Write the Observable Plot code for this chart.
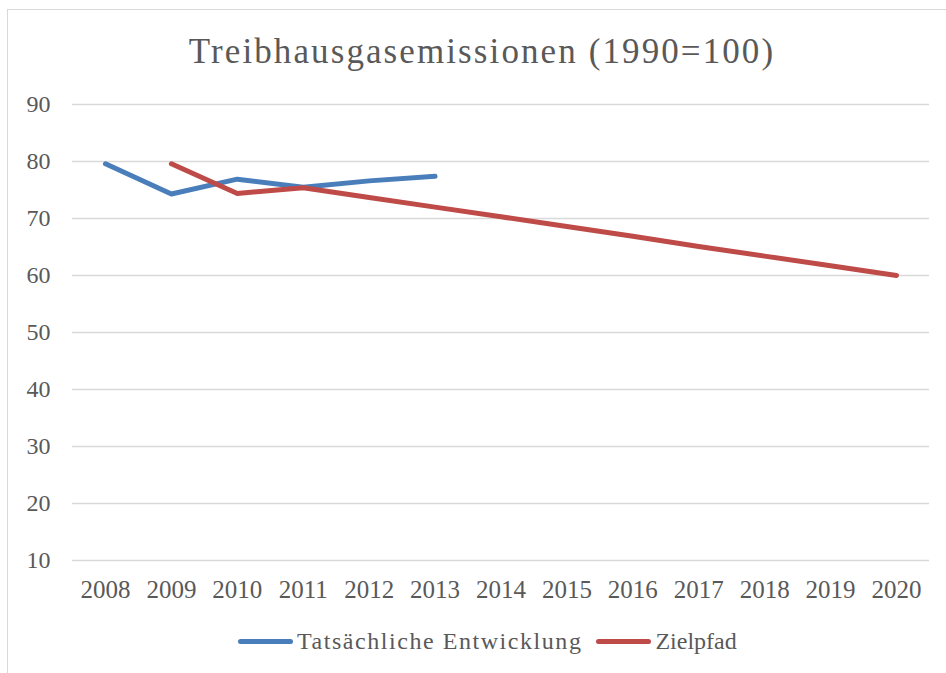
<!DOCTYPE html>
<html>
<head>
<meta charset="utf-8">
<script src="https://cdn.jsdelivr.net/npm/d3@7"></script>
<script src="https://cdn.jsdelivr.net/npm/@observablehq/plot@0.6"></script>
<style>
  html, body { margin: 0; padding: 0; background: #ffffff; }
  body { width: 946px; height: 673px; overflow: hidden; position: relative; font-family: "Liberation Serif", serif; color: #595959; }
  #frame { position: absolute; left: 7px; top: 9px; width: 980px; height: 700px; border-left: 1.5px solid #d9d9d9; border-top: 1.5px solid #d9d9d9; pointer-events: none; }
  #title { position: relative; height: 88px; box-sizing: border-box; padding-top: 34px; text-align: center; font-size: 35px; line-height: 1; letter-spacing: 2.1px; padding-left: 18px; }
  #chart { position: relative; height: 540px; }
  #chart svg { display: block; }
  #legend { position: relative; height: 27px; display: flex; align-items: center; padding-left: 238px; font-size: 24px; }
  .item { display: flex; align-items: center; }
  .sw { width: 55px; height: 5px; border-radius: 3px; margin-right: 4px; }
</style>
</head>
<body>
<div id="frame"></div>
<div id="title">Treibhausgasemissionen (1990=100)</div>
<div id="chart"></div>
<div id="legend"></div>
<script>
// ---- data ----
const years = ["2008","2009","2010","2011","2012","2013","2014","2015","2016","2017","2018","2019","2020"];
const yTicks = [10, 20, 30, 40, 50, 60, 70, 80, 90];
const tatsYears = ["2008","2009","2010","2011","2012","2013"];
const tatsValues = [79.6, 74.3, 76.9, 75.5, 76.6, 77.4];
const zielYears = ["2009","2010","2011","2012","2013","2014","2015","2016","2017","2018","2019","2020"];
const zielValues = [79.6, 74.4, 75.4, 73.7, 72.0, 70.3, 68.6, 66.9, 65.1, 63.4, 61.7, 60.0];
const seriesNames = ["Tatsächliche Entwicklung", "Zielpfad"];
const seriesColors = ["#4a7ebb", "#be4b48"];

const tats = tatsYears.map((y, i) => ({year: y, value: tatsValues[i]}));
const ziel = zielYears.map((y, i) => ({year: y, value: zielValues[i]}));

const lineStyle = {x: "year", y: "value", strokeWidth: 5, strokeLinecap: "round", strokeLinejoin: "round"};

const chart = Plot.plot({
  width: 946,
  height: 540,
  marginTop: 16,
  marginBottom: 68,
  marginLeft: 72,
  marginRight: 17,
  style: {fontFamily: "Liberation Serif, serif", color: "#595959", background: "transparent", overflow: "visible"},
  x: {type: "point", domain: years, padding: 0.5, round: false},
  y: {domain: [10, 90]},
  marks: [
    Plot.gridY(yTicks, {stroke: "#d9d9d9", strokeOpacity: 1, strokeWidth: 1.5}),
    Plot.axisY(yTicks, {tickSize: 0, tickPadding: 22, fontSize: 24, label: null}),
    Plot.axisX({tickSize: 0, tickPadding: 20, fontSize: 25, label: null}),
    Plot.line(tats, {...lineStyle, stroke: seriesColors[0]}),
    Plot.line(ziel, {...lineStyle, stroke: seriesColors[1]})
  ]
});
document.getElementById("chart").appendChild(chart);

const legend = document.getElementById("legend");
const spacing = ["1.55px", "0px"];
seriesNames.forEach((name, i) => {
  const item = document.createElement("div");
  item.className = "item";
  if (i > 0) item.style.marginLeft = "14px";
  const sw = document.createElement("div");
  sw.className = "sw";
  sw.style.background = seriesColors[i];
  const t = document.createElement("span");
  t.textContent = name;
  t.style.letterSpacing = spacing[i];
  item.appendChild(sw);
  item.appendChild(t);
  legend.appendChild(item);
});
</script>
</body>
</html>
